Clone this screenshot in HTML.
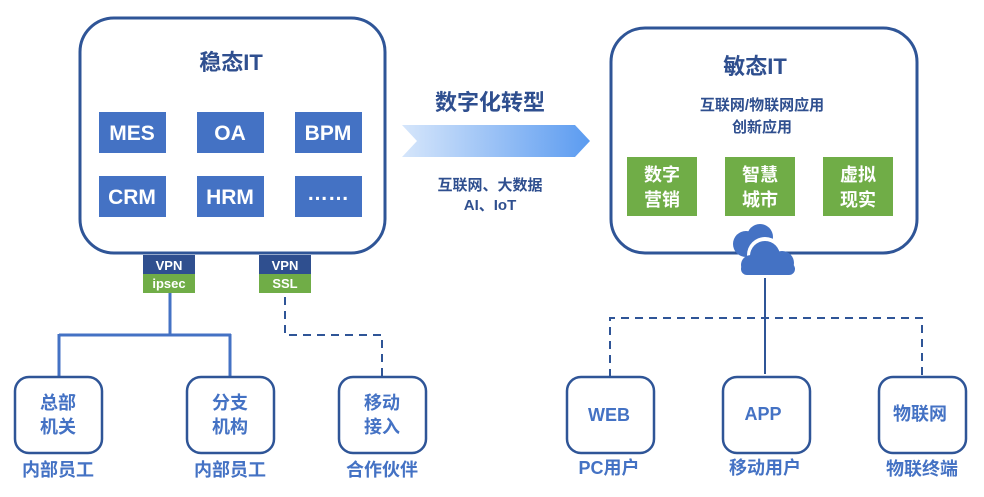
<!DOCTYPE html>
<html><head><meta charset="utf-8"><style>
body{margin:0;background:#fff;}
svg text{font-family:"Liberation Sans","Noto Sans CJK SC",sans-serif;font-weight:bold;}
</style></head><body>
<svg width="984" height="492" viewBox="0 0 984 492" xmlns="http://www.w3.org/2000/svg">
<defs>
<linearGradient id="g" x1="0" x2="1" y1="0" y2="0">
<stop offset="0" stop-color="#d6e6fb"/><stop offset="1" stop-color="#5b9bf0"/>
</linearGradient>
</defs>
<rect x="80" y="18" width="305" height="235" rx="34" fill="#fff" stroke="#2f5597" stroke-width="3"/>
<text x="231" y="70" font-size="22" fill="#2f4f8f" text-anchor="middle">稳态IT</text>
<g fill="#4472c4">
<rect x="99" y="112" width="67" height="41"/><rect x="197" y="112" width="67" height="41"/><rect x="295" y="112" width="67" height="41"/>
<rect x="99" y="176" width="67" height="41"/><rect x="197" y="176" width="67" height="41"/><rect x="295" y="176" width="67" height="41"/>
</g>
<g fill="#fff" font-size="21" text-anchor="middle">
<text x="132" y="140">MES</text><text x="230" y="140">OA</text><text x="328" y="140">BPM</text>
<text x="132" y="204">CRM</text><text x="230" y="204">HRM</text><text x="328" y="200">……</text>
</g>
<rect x="143" y="255" width="52" height="19" fill="#2f4f8f"/><rect x="143" y="274" width="52" height="19" fill="#70ad47"/>
<rect x="259" y="255" width="52" height="19" fill="#2f4f8f"/><rect x="259" y="274" width="52" height="19" fill="#70ad47"/>
<g fill="#fff" font-size="13" text-anchor="middle">
<text x="169" y="270">VPN</text><text x="169" y="288">ipsec</text>
<text x="285" y="270">VPN</text><text x="285" y="288">SSL</text>
</g>
<path d="M170 293 V335 M59 335 H231 M59 334 V377 M230 334 V377" stroke="#4472c4" stroke-width="3" fill="none"/>
<path d="M285 297 V335 H382 V377" stroke="#2f5597" stroke-width="2" stroke-dasharray="8,6" fill="none"/>
<g fill="#fff" stroke="#2f5597" stroke-width="2.5">
<rect x="15" y="377" width="87" height="76" rx="14"/>
<rect x="187" y="377" width="87" height="76" rx="14"/>
<rect x="339" y="377" width="87" height="76" rx="14"/>
<rect x="567" y="377" width="87" height="76" rx="14"/>
<rect x="723" y="377" width="87" height="76" rx="14"/>
<rect x="879" y="377" width="87" height="76" rx="14"/>
</g>
<g fill="#4472c4" font-size="18" text-anchor="middle">
<text x="58" y="409">总部</text><text x="58" y="433">机关</text>
<text x="230" y="409">分支</text><text x="230" y="433">机构</text>
<text x="382" y="409">移动</text><text x="382" y="433">接入</text>
<text x="609" y="421">WEB</text><text x="763" y="420">APP</text><text x="920" y="420">物联网</text>
<text x="58" y="476">内部员工</text><text x="230" y="476">内部员工</text><text x="382" y="476">合作伙伴</text>
<text x="609" y="474">PC用户</text><text x="765" y="474">移动用户</text><text x="922" y="475">物联终端</text>
</g>
<text x="490" y="110" font-size="22" fill="#2f4f8f" text-anchor="middle">数字化转型</text>
<polygon points="402,125 575,125 590,141 575,157 402,157 417,141" fill="url(#g)"/>
<text x="490" y="190" font-size="15" fill="#2f4f8f" text-anchor="middle">互联网、大数据</text>
<text x="490" y="210" font-size="15" fill="#2f4f8f" text-anchor="middle">AI、IoT</text>
<rect x="611" y="28" width="306" height="225" rx="34" fill="#fff" stroke="#2f5597" stroke-width="3"/>
<text x="755" y="74" font-size="22" fill="#2f4f8f" text-anchor="middle">敏态IT</text>
<text x="762" y="110" font-size="15" fill="#2f4f8f" text-anchor="middle">互联网/物联网应用</text>
<text x="762" y="132" font-size="15" fill="#2f4f8f" text-anchor="middle">创新应用</text>
<g fill="#70ad47">
<rect x="627" y="157" width="70" height="59"/><rect x="725" y="157" width="70" height="59"/><rect x="823" y="157" width="70" height="59"/>
</g>
<g fill="#fff" font-size="18" text-anchor="middle">
<text x="662" y="181">数字</text><text x="662" y="206">营销</text>
<text x="760" y="181">智慧</text><text x="760" y="206">城市</text>
<text x="858" y="181">虚拟</text><text x="858" y="206">现实</text>
</g>
<g fill="#4472c4">
<circle cx="746" cy="244" r="13"/><circle cx="760" cy="237" r="13"/>
</g>
<g fill="#fff"><circle cx="765" cy="255" r="18"/></g>
<g fill="#4472c4">
<circle cx="765" cy="256" r="15"/><circle cx="782" cy="263" r="12"/><circle cx="751" cy="265" r="10"/>
<rect x="741" y="263" width="54" height="12" rx="6"/>
</g>
<path d="M765 278 V374" stroke="#2f5597" stroke-width="2" fill="none"/>
<path d="M765 278 V318 M610 377 V318 H922 V377" stroke="#2f5597" stroke-width="2" stroke-dasharray="8,6" fill="none"/>
</svg>
</body></html>
